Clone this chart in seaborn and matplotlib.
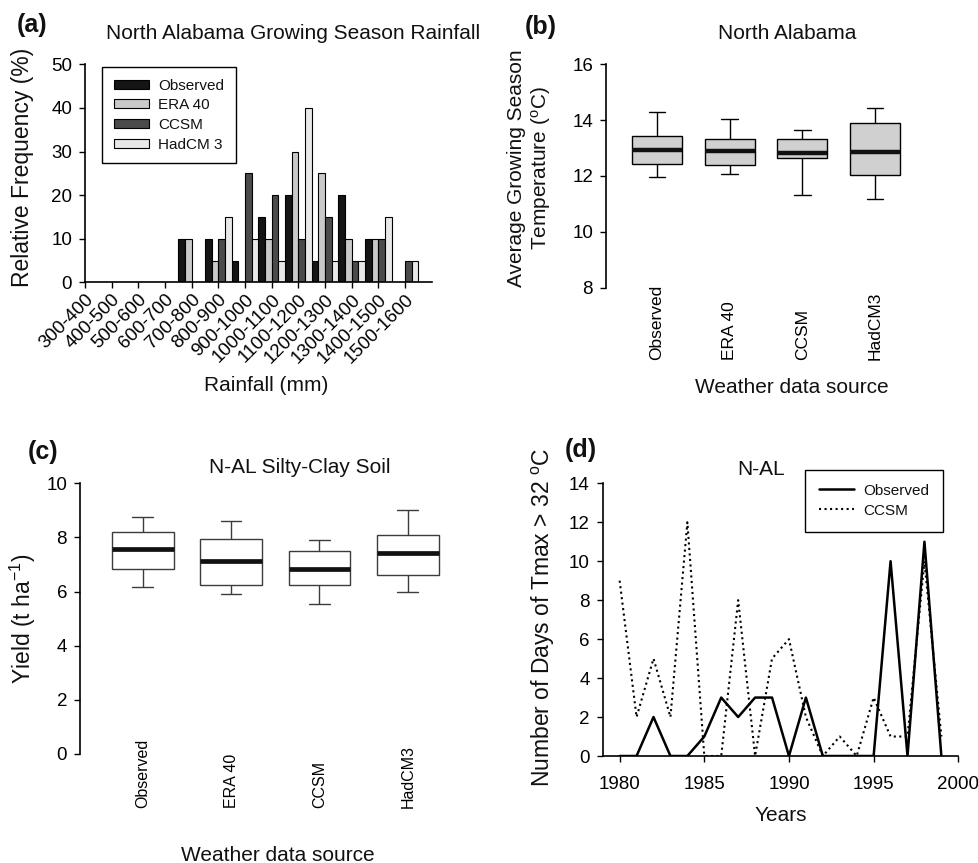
import numpy as np
import pandas as pd
import matplotlib
matplotlib.use("Agg")
import matplotlib.pyplot as plt
import seaborn as sns
from matplotlib.lines import Line2D

# ---------------- data ----------------
rain_bins = ['300-400', '400-500', '500-600', '600-700', '700-800', '800-900',
             '900-1000', '1000-1100', '1100-1200', '1200-1300', '1300-1400',
             '1400-1500', '1500-1600']
freq_observed = [0, 0, 0, 0, 10, 10, 5, 15, 20, 5, 20, 10, 0]
freq_era40 = [0, 0, 0, 0, 10, 5, 0, 10, 30, 25, 10, 10, 0]
freq_ccsm = [0, 0, 0, 0, 0, 10, 25, 20, 10, 15, 5, 10, 5]
freq_hadcm3 = [0, 0, 0, 0, 0, 15, 10, 5, 40, 5, 5, 15, 5]
rain_series = ['Observed', 'ERA 40', 'CCSM', 'HadCM 3']
rain_colors = ['#151515', '#c9c9c9', '#4b4b4b', '#e8e8e8']

sources = ['Observed', 'ERA 40', 'CCSM', 'HadCM3']
# five-number summaries (min, Q1, median, Q3, max)
temp_obs = [11.98, 12.44, 12.93, 13.43, 14.28]
temp_era = [12.06, 12.38, 12.91, 13.31, 14.04]
temp_ccsm = [11.33, 12.66, 12.82, 13.34, 13.66]
temp_had = [11.16, 12.02, 12.86, 13.91, 14.44]

yield_obs = [6.16, 6.85, 7.59, 8.21, 8.77]
yield_era = [5.92, 6.23, 7.12, 7.94, 8.60]
yield_ccsm = [5.54, 6.23, 6.83, 7.51, 7.92]
yield_had = [6.00, 6.60, 7.44, 8.08, 9.03]

years = list(range(1980, 2000))
days_observed = [0, 0, 2, 0, 0, 1, 3, 2, 3, 3, 0, 3, 0, 0, 0, 0, 10, 0, 11, 0]
days_ccsm = [9, 2, 5, 2, 12, 0, 0, 8, 0, 5, 6, 2, 0, 1, 0, 3, 1, 1, 10, 1]

# ---------------- style ----------------
sns.set_theme(style="ticks")
plt.rcParams['font.family'] = ['Liberation Sans', 'DejaVu Sans']
plt.rcParams['mathtext.default'] = 'regular'
plt.rcParams.update({
    'axes.edgecolor': 'black', 'axes.linewidth': 1.2,
    'xtick.color': 'black', 'ytick.color': 'black',
    'xtick.major.size': 4.3, 'ytick.major.size': 4.3,
    'xtick.major.width': 1.0, 'ytick.major.width': 1.0,
    'xtick.direction': 'out', 'ytick.direction': 'out',
    'text.color': '#111111', 'axes.labelcolor': '#111111',
})

W, H = 979, 863
fig = plt.figure(figsize=(W / 100, H / 100), dpi=100)


def rect(l, r, t, b):
    return [l / W, 1 - b / H, (r - l) / W, (b - t) / H]


def fx(x):
    return x / W


def fy(y):
    return 1 - y / H


axa = fig.add_axes(rect(85, 431.7, 64.3, 282.5))
axb = fig.add_axes(rect(606, 926, 64.3, 287.7))
axc = fig.add_axes(rect(80, 470.5, 483.3, 754))
axd = fig.add_axes(rect(602.7, 958.3, 483.3, 756))

# ---------------- (a) histogram bars ----------------
df_rain = pd.DataFrame({
    'bin': rain_bins * 4,
    'freq': freq_observed + freq_era40 + freq_ccsm + freq_hadcm3,
    'series': np.repeat(rain_series, len(rain_bins)),
})
sns.barplot(data=df_rain, x='bin', y='freq', hue='series', order=rain_bins,
            hue_order=rain_series, palette=rain_colors, width=1.0,
            saturation=1, edgecolor='black', linewidth=0.8, errorbar=None,
            ax=axa)
axa.set_xlim(0, 13)
axa.set_ylim(0, 50)
axa.set_yticks(range(0, 51, 10))
axa.set_xticks(range(len(rain_bins)))
axa.set_xticklabels(rain_bins, rotation=45, ha='right', va='top',
                    rotation_mode='anchor', fontsize=13.5)
axa.tick_params(axis='x', pad=2)
axa.tick_params(axis='y', labelsize=13.5, pad=5)
sns.despine(ax=axa)
h, l = axa.get_legend_handles_labels()
axa.legend(h, l, loc='upper left', bbox_to_anchor=(0.048, 0.989),
           borderaxespad=0, frameon=True, fancybox=False, edgecolor='black',
           framealpha=1, fontsize=11, handlelength=2.3, handleheight=0.5,
           labelspacing=0.37, borderpad=0.78, handletextpad=0.6)
axa.get_legend().get_frame().set_linewidth(1.0)
axa.set_xlabel('Rainfall (mm)', fontsize=15, va='center')
axa.xaxis.set_label_coords(fx(266), fy(385), transform=fig.transFigure)
axa.set_ylabel('Relative Frequency (%)', fontsize=16.5, va='center')
axa.yaxis.set_label_coords(fx(22.5), fy(167), transform=fig.transFigure)


# ---------------- box plots ----------------
def draw_box(ax, values, fill, edge, width, medlw):
    df = pd.DataFrame({'source': np.repeat(sources, 5),
                       'value': np.concatenate(values)})
    kw = dict(data=df, x='source', y='value', order=sources, ax=ax,
              whis=(0, 100), width=width, color=fill, linecolor=edge,
              linewidth=1.0, showfliers=False, saturation=1,
              medianprops=dict(linewidth=medlw, color='#111111'))
    try:
        sns.boxplot(capwidths=width / 3, **kw)
    except Exception:
        ax.cla()
        sns.boxplot(**kw)


draw_box(axb, [temp_obs, temp_era, temp_ccsm, temp_had], '#d0d0d0', 'black', 0.69, 3.2)
axb.set_xlim(-0.7, 3.7)
axb.set_ylim(8, 16)
axb.set_yticks(range(8, 17, 2))
axb.set_xticks(range(4))
axb.set_xticklabels(sources, rotation=90, ha='left', va='center',
                    rotation_mode='anchor', fontsize=12.5)
axb.tick_params(axis='x', length=0, pad=52)
axb.tick_params(axis='y', labelsize=13.5, pad=5)
sns.despine(ax=axb, bottom=True)
axb.set_xlabel('Weather data source', fontsize=15, va='center')
axb.xaxis.set_label_coords(fx(792), fy(387), transform=fig.transFigure)
axb.set_ylabel('Average Growing Season\nTemperature ($^{o}$C)', fontsize=15,
               va='center', ha='center', linespacing=1.2)
axb.yaxis.set_label_coords(fx(530), fy(168), transform=fig.transFigure)

draw_box(axc, [yield_obs, yield_era, yield_ccsm, yield_had], 'white', '#3c3c3c', 0.70, 3.4)
axc.set_xlim(-0.71, 3.71)
axc.set_ylim(0, 10)
axc.set_yticks(range(0, 11, 2))
axc.set_xticks(range(4))
axc.set_xticklabels(sources, rotation=90, ha='left', va='center',
                    rotation_mode='anchor', fontsize=11.5)
axc.tick_params(axis='x', length=0, pad=39)
axc.tick_params(axis='y', labelsize=13.5, pad=5)
sns.despine(ax=axc, bottom=True)
axc.set_xlabel('Weather data source', fontsize=15, va='center')
axc.xaxis.set_label_coords(fx(278), fy(855), transform=fig.transFigure)
axc.set_ylabel('Yield (t ha$^{-1}$)', fontsize=16.5, va='center')
axc.yaxis.set_label_coords(fx(23), fy(619), transform=fig.transFigure)

# ---------------- (d) lines ----------------
sns.lineplot(x=years, y=days_observed, ax=axd, color='black', linewidth=1.8,
             linestyle='-')
sns.lineplot(x=years, y=days_ccsm, ax=axd, color='black', linewidth=1.5,
             linestyle=':')
axd.set_xlim(1979, 2000)
axd.set_ylim(0, 14)
axd.set_xticks(range(1980, 2001, 5))
axd.set_yticks(range(0, 15, 2))
axd.tick_params(axis='x', labelsize=13.5, pad=10)
axd.tick_params(axis='y', labelsize=13.5, pad=5)
sns.despine(ax=axd)
leg_h = [Line2D([], [], color='black', lw=1.8, ls='-'),
         Line2D([], [], color='black', lw=1.5, ls=':')]
axd.legend(leg_h, ['Observed', 'CCSM'], loc='upper right',
           bbox_to_anchor=(0.957, 1.049), borderaxespad=0, frameon=True,
           fancybox=False, edgecolor='black', framealpha=1, fontsize=11,
           handlelength=2.3, labelspacing=0.4, borderpad=0.9,
           handletextpad=0.6)
axd.get_legend().get_frame().set_linewidth(1.0)
axd.set_xlabel('Years', fontsize=15, va='center')
axd.xaxis.set_label_coords(fx(781), fy(815), transform=fig.transFigure)
axd.set_ylabel('Number of Days of Tmax > 32 $^{o}$C', fontsize=16.5, va='center')
axd.yaxis.set_label_coords(fx(543), fy(617), transform=fig.transFigure)

# ---------------- titles and panel letters ----------------
fig.text(fx(293), fy(39), 'North Alabama Growing Season Rainfall', ha='center',
         va='baseline', fontsize=15)
fig.text(fx(787), fy(39), 'North Alabama', ha='center', va='baseline', fontsize=15)
fig.text(fx(300), fy(473), 'N-AL Silty-Clay Soil', ha='center', va='baseline', fontsize=15)
fig.text(fx(761), fy(475), 'N-AL', ha='center', va='baseline', fontsize=15)
for lab, x, y in [('(a)', 32.5, 25), ('(b)', 540.5, 27), ('(c)', 43.5, 452), ('(d)', 581, 450)]:
    fig.text(fx(x), fy(y), lab, ha='center', va='center', fontsize=18,
             fontweight='bold')

fig.savefig('out.png', dpi=100)
